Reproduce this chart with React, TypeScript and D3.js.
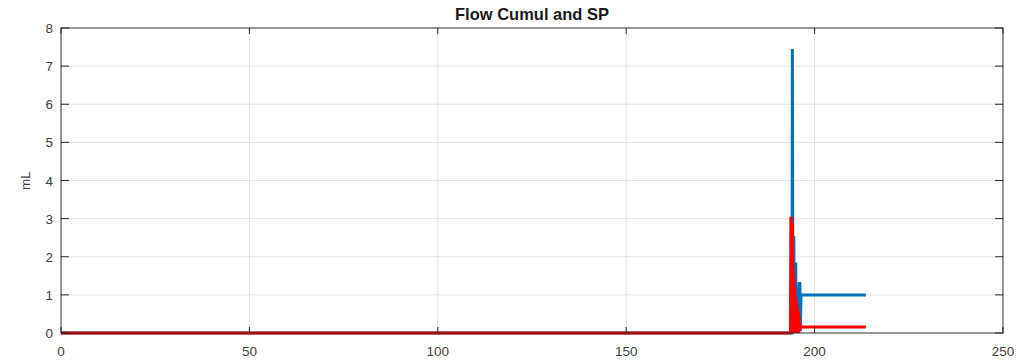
import React from "react";
import * as d3 from "d3";

const W = 1025;
const H = 362;
const M = { left: 61, right: 1003, top: 28, bottom: 333 };

const title = "Flow Cumul and SP";
const yLabel = "mL";
const xTicks = [0, 50, 100, 150, 200, 250];
const yTicks = [0, 1, 2, 3, 4, 5, 6, 7, 8];

// Flow Cumul (blue): [time, mL]
const blueSeries: [number, number][] = [
  [0, 0], [194.0, 0], [194.1, 7.45], [194.2, 2.5], [194.5, 2.5], [194.6, 0],
  [195.0, 1.85], [195.1, 0], [195.9, 1.3], [196.1, 1.3], [196.2, 0.05],
  [196.4, 1.0], [213.6, 1.0],
];

// SP (red): [time, mL]
const redSeries: [number, number][] = [
  [0, 0], [193.6, 0], [193.7, 3.05], [193.8, 0], [193.9, 3.0], [194.0, 0],
  [194.1, 2.9], [194.2, 0], [194.3, 1.75], [194.4, 0], [194.5, 1.45],
  [194.6, 0], [194.7, 1.2], [194.8, 0], [194.9, 0.95], [195.0, 0],
  [195.1, 0.85], [195.2, 0], [195.3, 0.75], [195.4, 0], [195.5, 0.65],
  [195.6, 0], [195.7, 0.55], [195.8, 0], [195.9, 0.4], [196.0, 0.05],
  [196.1, 0.25], [196.2, 0.1], [196.3, 0.16], [213.6, 0.16],
];

export default function App() {
  const x = d3.scaleLinear().domain([0, 250]).range([M.left, M.right]);
  const y = d3.scaleLinear().domain([0, 8]).range([M.bottom, M.top]);
  const line = d3
    .line<[number, number]>()
    .x((d) => x(d[0]))
    .y((d) => y(d[1]));
  const axisColor = "#262626";
  const font = "'Liberation Sans', Arial, Helvetica, sans-serif";

  return (
    <svg
      width={W}
      height={H}
      style={{ position: "absolute", left: 0, top: 0, background: "#fff" }}
      fontFamily={font}
    >
      {/* grid */}
      {xTicks.slice(1, -1).map((t) => (
        <line key={"gx" + t} x1={x(t)} x2={x(t)} y1={M.top} y2={M.bottom} stroke="#e3e3e3" strokeWidth={1} />
      ))}
      {yTicks.slice(1, -1).map((t) => (
        <line key={"gy" + t} x1={M.left} x2={M.right} y1={y(t)} y2={y(t)} stroke="#e3e3e3" strokeWidth={1} />
      ))}
      {/* data */}
      <path d={line(blueSeries) || ""} fill="none" stroke="#0072BD" strokeWidth={3} strokeLinejoin="miter" />
      <path d={line(redSeries) || ""} fill="none" stroke="#FF0000" strokeWidth={3} strokeLinejoin="bevel" />
      {/* box */}
      <rect x={M.left} y={M.top} width={M.right - M.left} height={M.bottom - M.top} fill="none" stroke={axisColor} strokeWidth={1.2} opacity={0.8} />
      {/* ticks */}
      {xTicks.map((t) => (
        <g key={"xt" + t}>
          <line x1={x(t)} x2={x(t)} y1={M.bottom} y2={M.bottom - 6} stroke={axisColor} />
          <line x1={x(t)} x2={x(t)} y1={M.top} y2={M.top + 6} stroke={axisColor} />
          <text x={x(t)} y={356} textAnchor="middle" fontSize={13.5} fill="#404040">
            {t}
          </text>
        </g>
      ))}
      {yTicks.map((t) => (
        <g key={"yt" + t}>
          <line x1={M.left} x2={M.left + 8} y1={y(t)} y2={y(t)} stroke={axisColor} />
          <line x1={M.right} x2={M.right - 8} y1={y(t)} y2={y(t)} stroke={axisColor} />
          <text x={53} y={y(t) + 5} textAnchor="end" fontSize={13.5} fill="#404040">
            {t}
          </text>
        </g>
      ))}
      <text
        transform={`translate(30, ${(M.top + M.bottom) / 2}) rotate(-90)`}
        textAnchor="middle"
        fontSize={13.5}
        fill="#404040"
      >
        {yLabel}
      </text>
      <text x={(M.left + M.right) / 2} y={20} textAnchor="middle" fontSize={16.5} fontWeight="bold" fill="#1a1a1a">
        {title}
      </text>
    </svg>
  );
}
